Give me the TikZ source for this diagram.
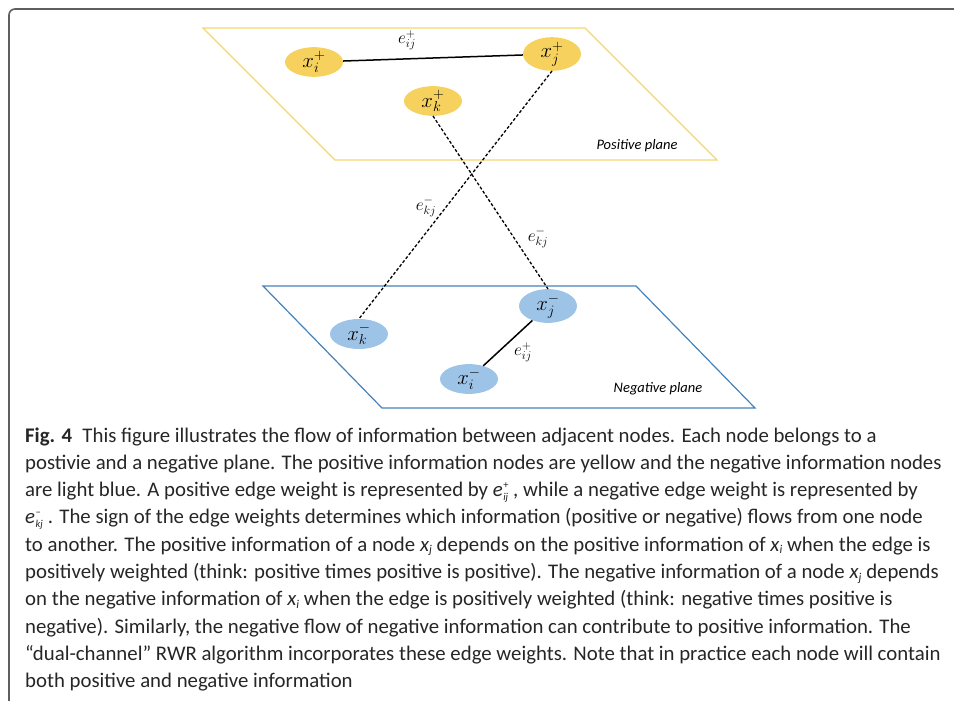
\documentclass[tikz,border=0pt]{standalone}
\usepackage{fontspec}
\setmainfont{Carlito}
\usetikzlibrary{%
  shapes.geometric,% ellipse
  positioning%
}
\definecolor{posfill}{RGB}{247,209,94}
\definecolor{posline}{RGB}{246,214,112}
\definecolor{negfill}{RGB}{157,195,230}
\definecolor{negline}{RGB}{70,130,185}
\definecolor{framegray}{RGB}{95,95,95}
% small variables in the caption
\newcommand{\capweight}[3]{\textit{#1}\kern0.5pt\makebox[0pt][l]{\raisebox{8pt}{\fontsize{10.5}{10.5}\selectfont #2}}\raisebox{-4pt}{\fontsize{10.5}{10.5}\selectfont\itshape #3}}
\newcommand{\capvar}[2]{\textit{#1}\raisebox{-2.5pt}{\fontsize{12}{12}\selectfont\itshape #2}}

\begin{document}
\begin{tikzpicture}
  [
  x=1pt, y=-1pt,
  posnode/.style={ellipse, fill=posfill, inner sep=0pt, minimum width=58pt, minimum height=28pt, font=\fontsize{21}{21}\selectfont},
  negnode/.style={posnode, fill=negfill},
  edgelabel/.style={inner sep=1pt, font=\fontsize{16.5}{17}\selectfont},
  planelabel/.style={inner sep=0pt, font=\fontsize{14.5}{15}\itshape},
  solidedge/.style={line width=1.5pt, draw=black},
  crossedge/.style={line width=1.3pt, draw=black, dash pattern=on 3pt off 2pt},
  captionline/.style={anchor=base west, inner sep=0pt, text=black!85, font=\fontsize{20.8}{21}\selectfont}
  ]
  \useasboundingbox (0,0) rectangle (954,701);

  % frame round the figure
  \draw[framegray, line width=1.6pt, rounded corners=6pt] (9,701) -- (9,9) -- (954,9);

  % the two planes
  \draw[posline, line width=1.2pt] (203,28) -- (585,28) -- (717,160) -- (335,160) -- cycle;
  \draw[negline, line width=1.2pt] (263,286) -- (636,286) -- (755,408) -- (382,408) -- cycle;
  \node[planelabel] (pplane) at (637,146) {Positive plane};
  \node[planelabel] (nplane) at (658,389) {Negative plane};

  \node[posnode] (xip) at (314,62) {$x_i^+$};
  \node[posnode] (xjp) at (552,54) {$x_j^+$};
  \node[posnode] (xkp) at (433,101) {$x_k^+$};

  \node[negnode] (xkm) at (359,334) {$x_k^-$};
  \node[negnode] (xjm) at (548,306) {$x_j^-$};
  \node[negnode] (xim) at (469,379) {$x_i^-$};

  \draw[solidedge] (xip) -- (xjp);
  \draw[solidedge] (xjm) -- (xim);
  \draw[crossedge] (xjp.south) -- (xkm.north);
  \draw[crossedge] (xkp.south) -- (xjm.north);

  \node[edgelabel] (eijp) at (407,40) {$e_{ij}^{+}$};
  \node[edgelabel] (ekjl) at (426,207) {$e_{kj}^{-}$};
  \node[edgelabel] (ekjr) at (538,238) {$e_{kj}^{-}$};
  \node[edgelabel] (eijm) at (523,352) {$e_{ij}^{+}$};

  % caption
  \foreach \txt [count=\n] in {%
    {\textbf{Fig. 4}\enspace This figure illustrates the flow of information between adjacent nodes. Each node belongs to a},
    {postivie and a negative plane. The positive information nodes are yellow and the negative information nodes},
    {are light blue. A positive edge weight is represented by \capweight{e}{+}{ij}\kern5pt, while a negative edge weight is represented by},
    {\capweight{e}{--}{kj}\kern5pt. The sign of the edge weights determines which information (positive or negative) flows from one node},
    {to another. The positive information of a node \capvar{x}{j} depends on the positive information of \capvar{x}{i} when the edge is},
    {positively weighted (think: positive times positive is positive). The negative information of a node \capvar{x}{j} depends},
    {on the negative information of \capvar{x}{i} when the edge is positively weighted (think: negative times positive is},
    {negative). Similarly, the negative flow of negative information can contribute to positive information. The},
    {“dual-channel” RWR algorithm incorporates these edge weights. Note that in practice each node will contain},
    {both positive and negative information}} {
    \node[captionline] (capline\n) at (25,{442+27.3*(\n-1)}) {\txt};
  }
\end{tikzpicture}
\end{document}
